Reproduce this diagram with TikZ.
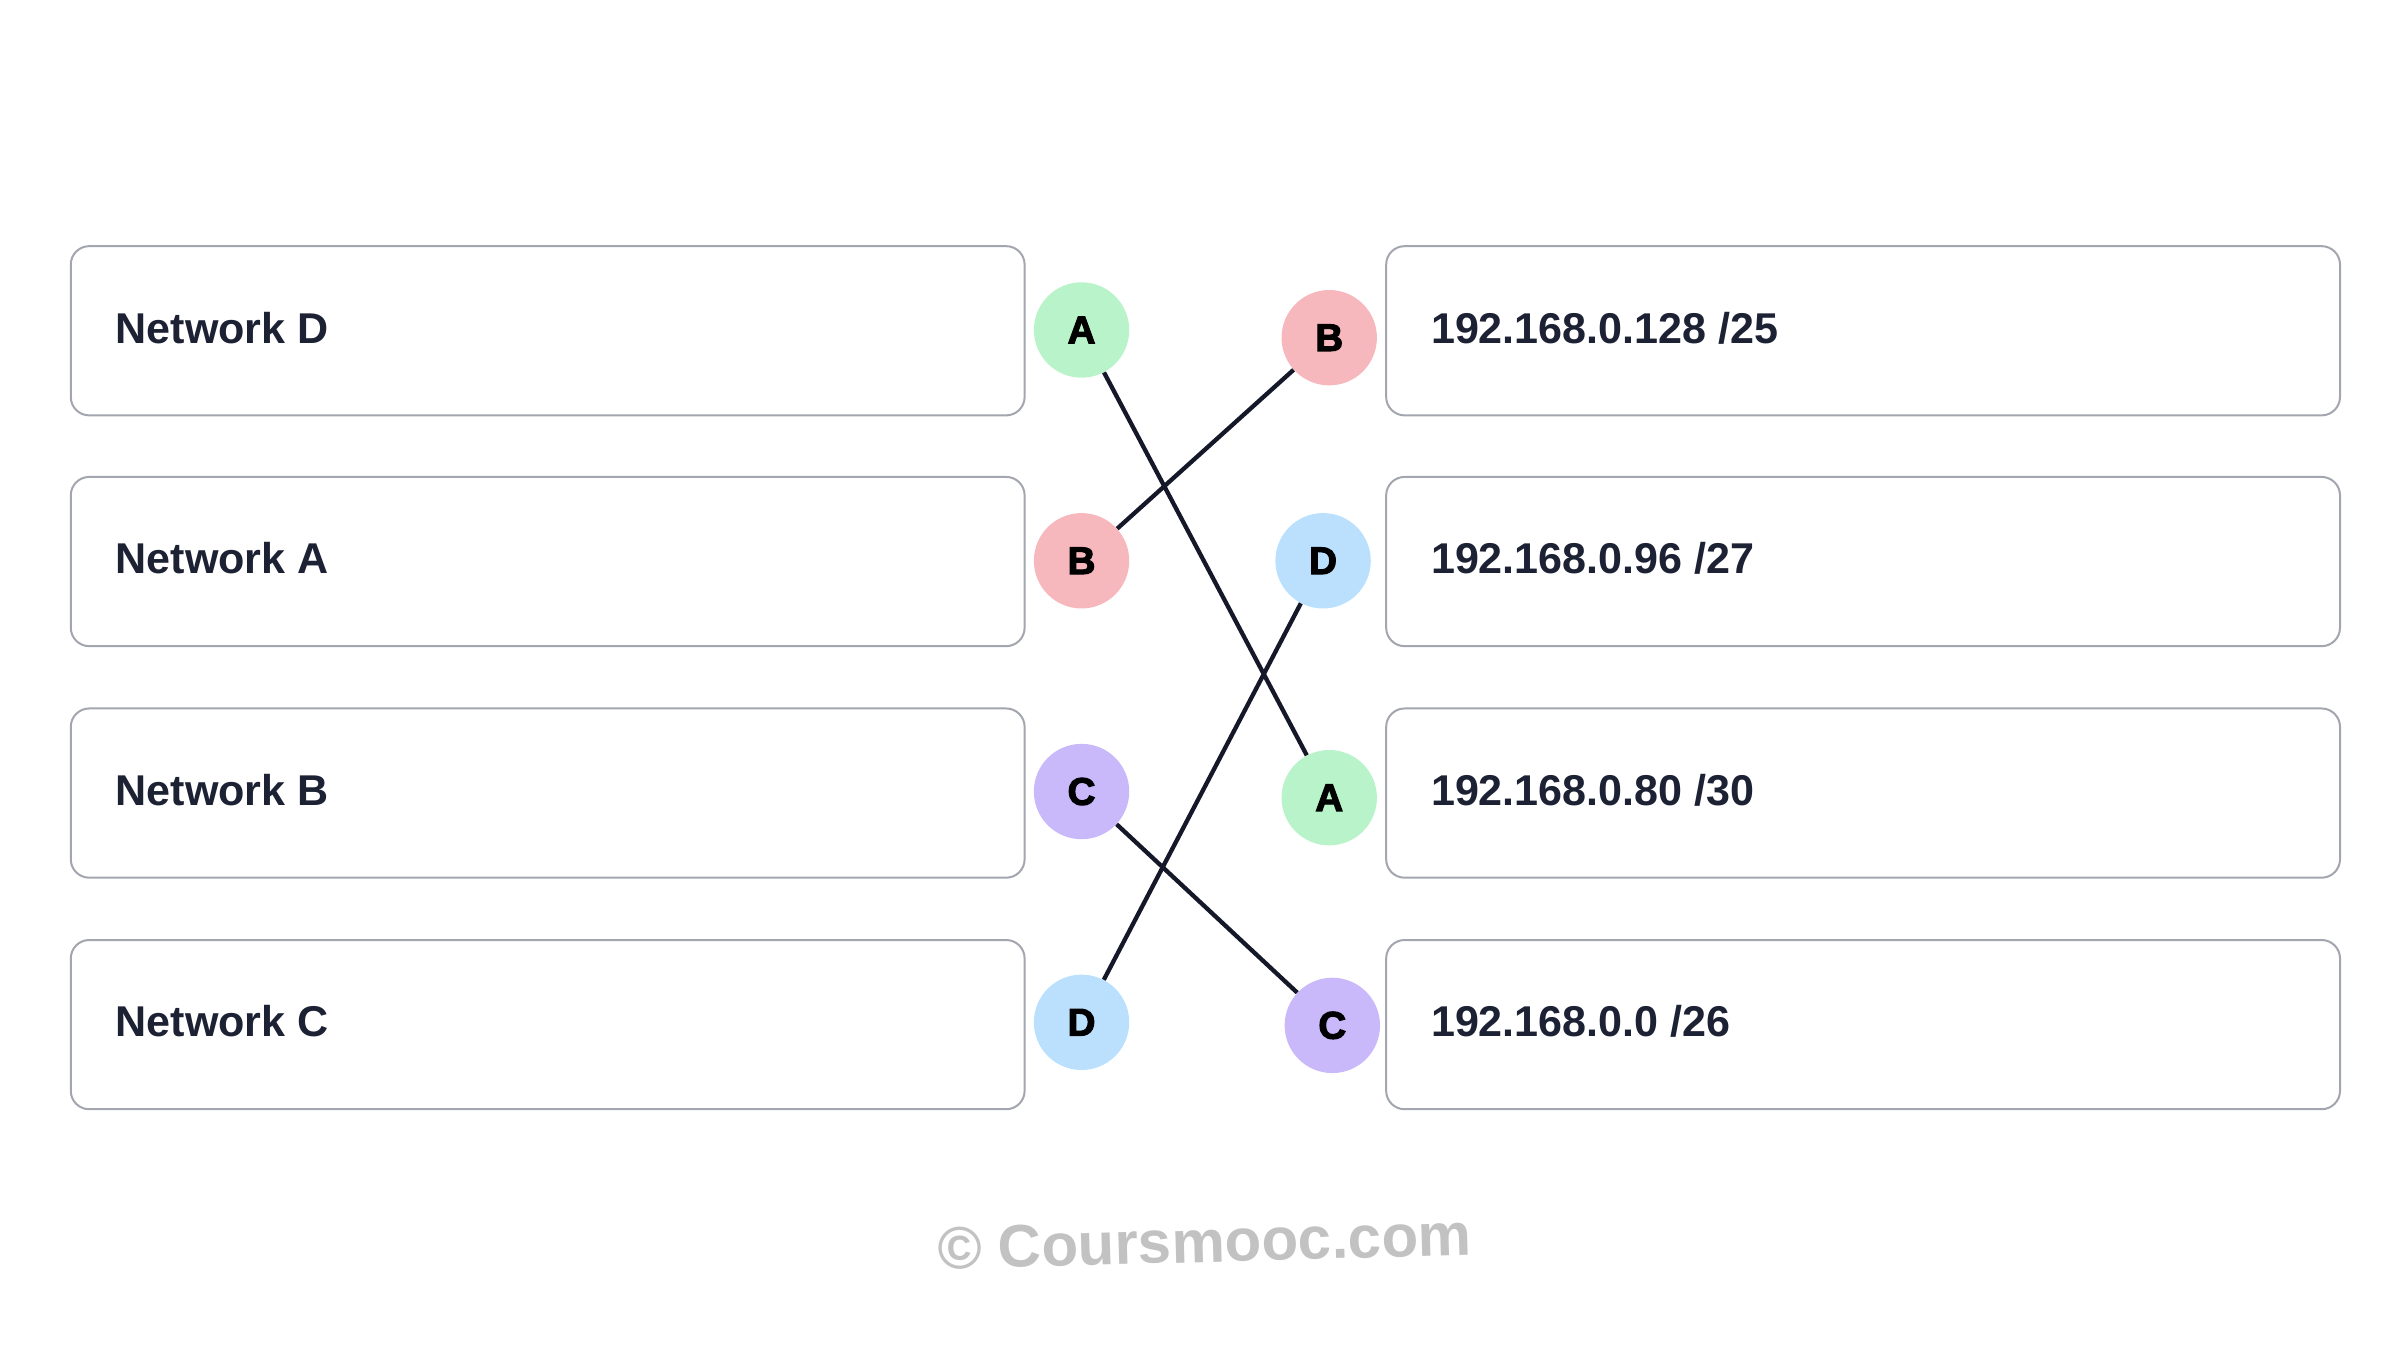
\documentclass[tikz,border=0pt]{standalone}
\usepackage{fontspec}
\setmainfont{Liberation Sans}
\newfontfamily\heavyfont[FakeBold=3]{Liberation Sans Bold}
\definecolor{cgreen}{HTML}{B8F3C9}
\definecolor{cpink}{HTML}{F6B7BD}
\definecolor{cpurple}{HTML}{C9B8FA}
\definecolor{cblue}{HTML}{BAE0FD}
\definecolor{linecol}{HTML}{151828}
\definecolor{boxcol}{HTML}{A3A6AF}
\definecolor{txtcol}{HTML}{1C2134}
\definecolor{wmcol}{HTML}{C2C2C2}
\begin{document}
\begin{tikzpicture}[x=1pt,y=-1pt,
  itembox/.style={draw=boxcol, line width=1.3pt, rounded corners=12pt, fill=white,
    minimum width=620pt, minimum height=110pt, inner sep=0pt},
  itemtxt/.style={anchor=base west, inner sep=0pt, text=txtcol,
    font=\fontsize{28}{30}\selectfont\bfseries},
  badge/.style={circle, minimum size=62pt, inner sep=0pt, text=black,
    font=\fontsize{25}{27}\selectfont\heavyfont},
  link/.style={draw=linecol, line width=2.8pt},
  wm/.style={text=wmcol, font=\fontsize{39}{42}\selectfont\bfseries, inner sep=0pt}
]
\useasboundingbox (0,0) rectangle (1560,877.5);
% left boxes
\node[itembox] (L1) at (356,215) {};
\node[itembox] (L2) at (356,365) {};
\node[itembox] (L3) at (356,515.5) {};
\node[itembox] (L4) at (356,666) {};
\node[itemtxt] (L1t) at (75,223) {Network D};
\node[itemtxt] (L2t) at (75,373) {Network A};
\node[itemtxt] (L3t) at (75,523.5) {Network B};
\node[itemtxt] (L4t) at (75,674) {Network C};
% right boxes
\node[itembox] (R1) at (1211,215) {};
\node[itembox] (R2) at (1211,365) {};
\node[itembox] (R3) at (1211,515.5) {};
\node[itembox] (R4) at (1211,666) {};
\node[itemtxt] (R1t) at (930,223) {192.168.0.128 /25};
\node[itemtxt] (R2t) at (930,373) {192.168.0.96 /27};
\node[itemtxt] (R3t) at (930,523.5) {192.168.0.80 /30};
\node[itemtxt] (R4t) at (930,674) {192.168.0.0 /26};
% left badges
\node[badge, fill=cgreen] (la) at (703,214.5) {A};
\node[badge, fill=cpink] (lb) at (703,364.5) {B};
\node[badge, fill=cpurple] (lc) at (703,514.5) {C};
\node[badge, fill=cblue] (ld) at (703,664.5) {D};
% right badges
\node[badge, fill=cpink] (rb) at (864,219.5) {B};
\node[badge, fill=cblue] (rd) at (860,364.5) {D};
\node[badge, fill=cgreen] (ra) at (864,518.5) {A};
\node[badge, fill=cpurple] (rc) at (866,666.5) {C};
% connectors
\draw[link] (la) -- (ra);
\draw[link] (lb) -- (rb);
\draw[link] (lc) -- (rc);
\draw[link] (ld) -- (rd);
% watermark
\node[wm, rotate=1.5] (wmark) at (783,807) {© Coursmooc.com};
\end{tikzpicture}
\end{document}
